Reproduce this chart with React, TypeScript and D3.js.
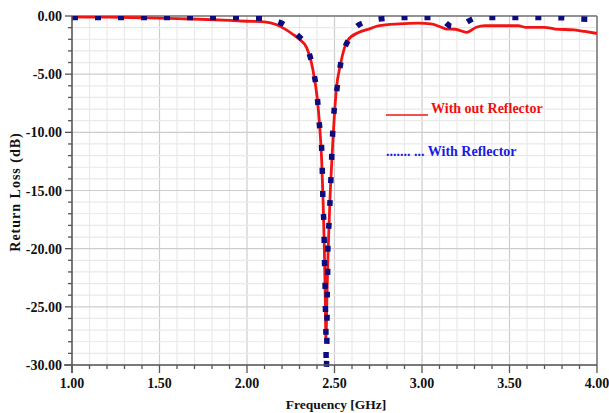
import React from 'react';
import * as d3 from 'd3';

// frequency (GHz) / return loss (dB)
const freqOut = [1.0, 1.2, 1.4, 1.6, 1.73, 1.9, 2.0, 2.1, 2.17, 2.22, 2.26, 2.3, 2.34, 2.375, 2.4, 2.415, 2.427, 2.435, 2.442, 2.447, 2.451, 2.457, 2.464, 2.474, 2.487, 2.51, 2.535, 2.575, 2.64, 2.7, 2.75, 2.87, 2.98, 3.05, 3.1, 3.14, 3.19, 3.255, 3.31, 3.36, 3.55, 3.59, 3.7, 3.76, 3.87, 3.93, 4.0];
const lossOut = [-0.08, -0.1, -0.15, -0.22, -0.28, -0.38, -0.45, -0.5, -0.75, -1.15, -1.55, -2.0, -2.7, -4.5, -6.9, -9.4, -12.5, -16, -20, -24, -27.8, -24, -20, -15.8, -11.8, -6.4, -4.1, -2.1, -1.4, -1.1, -0.85, -0.68, -0.62, -0.68, -0.9, -1.12, -1.14, -1.4, -0.97, -0.84, -0.84, -0.97, -0.97, -1.12, -1.2, -1.33, -1.5];

const freqWith = [1.0, 1.5, 1.9, 2.0, 2.1, 2.17, 2.22, 2.26, 2.3, 2.337, 2.379, 2.402, 2.413, 2.427, 2.431, 2.434, 2.44, 2.442, 2.446, 2.448, 2.451, 2.453, 2.457, 2.458, 2.461, 2.462, 2.469, 2.477, 2.482, 2.487, 2.495, 2.513, 2.535, 2.589, 2.62, 2.684, 2.8, 2.94, 3.05, 3.12, 3.17, 3.22, 3.27, 3.3, 3.4, 3.8, 3.89, 4.0];
const lossWith = [-0.12, -0.12, -0.13, -0.15, -0.2, -0.45, -0.8, -1.25, -1.8, -2.5, -4.7, -7.0, -9.2, -11.5, -13.8, -16.1, -18.2, -20.5, -22.8, -25.0, -27.3, -30.5, -26.7, -24.5, -22.2, -19.9, -17.7, -15.0, -13.0, -10.9, -8.7, -6.4, -4.1, -1.8, -1.0, -0.49, -0.2, -0.12, -0.12, -0.4, -0.9, -0.8, -0.4, -0.2, -0.12, -0.15, -0.25, -0.3];

const xMajor = [1.0, 1.5, 2.0, 2.5, 3.0, 3.5, 4.0];
const yMajor = [0, -5, -10, -15, -20, -25, -30];

const W = 609;
const H = 413;
const left = 72, right = 597, top = 16, bottom = 365;
const font = '"Liberation Serif", "Times New Roman", serif';

export default function App() {
  const x = d3.scaleLinear().domain([1, 4]).range([left, right]);
  const y = d3.scaleLinear().domain([-30, 0]).range([bottom, top]);

  const xMinor = d3.range(10, 41).map((d) => d / 10);
  const yMinor = d3.range(0, -31, -1);

  const line = d3
    .line<[number, number]>()
    .x((d) => x(d[0]))
    .y((d) => y(d[1]))
    .curve(d3.curveMonotoneX);

  const redPath = line(freqOut.map((f, i) => [f, lossOut[i]] as [number, number])) || '';
  const bluePath = line(freqWith.map((f, i) => [f, lossWith[i]] as [number, number])) || '';

  const isMajor = (v: number, step: number) => Math.abs(v / step - Math.round(v / step)) < 1e-6;

  return (
    <svg width={W} height={H} style={{ position: 'absolute', left: 0, top: 0, background: '#fff' }} fontFamily={font}>
      <defs>
        <clipPath id="plot">
          <rect x={left} y={top} width={right - left} height={bottom - top + 4} />
        </clipPath>
      </defs>

      {/* grid */}
      {xMinor.map((v) => (
        <line key={'gx' + v} x1={x(v)} x2={x(v)} y1={top} y2={bottom}
          stroke={isMajor(v, 0.5) ? '#cdcdcd' : '#e9e9e9'} strokeWidth={1.2} />
      ))}
      {yMinor.map((v) => (
        <line key={'gy' + v} x1={left} x2={right} y1={y(v)} y2={y(v)}
          stroke={isMajor(v, 5) ? '#cdcdcd' : '#e9e9e9'} strokeWidth={1.2} />
      ))}

      {/* frame */}
      <line x1={left} x2={right} y1={top} y2={top} stroke="#777" strokeWidth={1.5} />
      <line x1={right} x2={right} y1={top} y2={bottom} stroke="#777" strokeWidth={1.5} />

      {/* series */}
      <g clipPath="url(#plot)">
        <path d={redPath} fill="none" stroke="#f21414" strokeWidth={2.8} />
        <path d={bluePath} fill="none" stroke="#0c0c7e" strokeWidth={5.5} strokeDasharray="6 17" />
      </g>

      {/* axes */}
      <line x1={left - 8} x2={right} y1={bottom} y2={bottom} stroke="#555" strokeWidth={1.5} />
      <line x1={left} x2={left} y1={top} y2={bottom + 8} stroke="#555" strokeWidth={1.5} />
      {xMinor.map((v) => (
        <line key={'tx' + v} x1={x(v)} x2={x(v)} y1={bottom} y2={bottom + (isMajor(v, 0.5) ? 8 : 4)}
          stroke="#555" strokeWidth={1.3} />
      ))}
      {yMinor.map((v) => (
        <line key={'ty' + v} x1={left - (isMajor(v, 5) ? 7 : 4)} x2={left} y1={y(v)} y2={y(v)}
          stroke="#555" strokeWidth={1.3} />
      ))}
      {xMajor.map((v) => (
        <text key={'lx' + v} x={x(v)} y={388} textAnchor="middle" fontSize={14} fontWeight="bold" fill="#111">
          {v.toFixed(2)}
        </text>
      ))}
      {yMajor.map((v) => (
        <text key={'ly' + v} x={62} y={y(v) + 5} textAnchor="end" fontSize={14} fontWeight="bold" fill="#111">
          {v.toFixed(2)}
        </text>
      ))}

      <text x={336} y={409} textAnchor="middle" fontSize={13.5} fontWeight="bold" fill="#111">
        Frequency [GHz]
      </text>
      <text transform={`translate(20,192) rotate(-90)`} textAnchor="middle" fontSize={14} fontWeight="bold"
        letterSpacing={1} fill="#111">
        Return Loss (dB)
      </text>

      {/* legend */}
      <line x1={386} x2={428} y1={115} y2={115} stroke="#f21414" strokeWidth={1.5} />
      <text x={431} y={113} fontSize={14} fontWeight="bold" fill="#ee1111">With out Reflector</text>
      <text x={386} y={156} fontSize={14} fontWeight="bold" fill="#1a1ae6">....... ... With Reflector</text>
    </svg>
  );
}
